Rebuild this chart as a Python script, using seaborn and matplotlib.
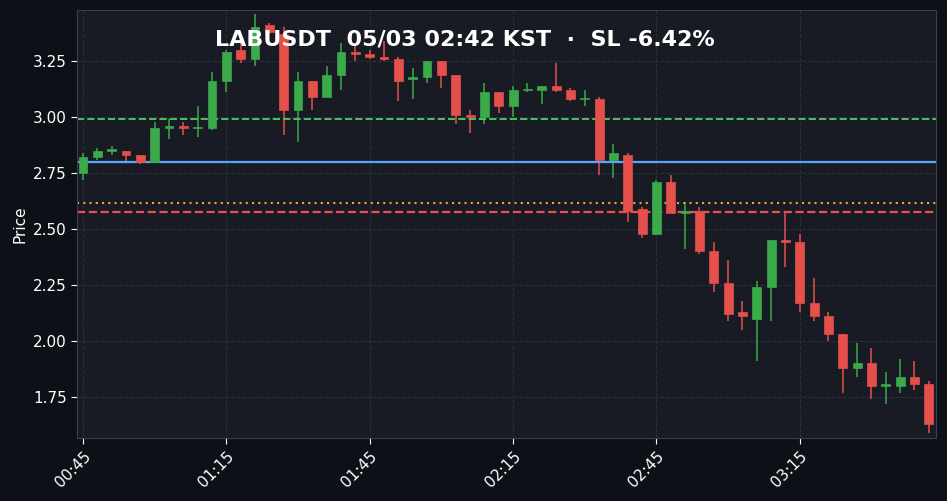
import matplotlib
matplotlib.use("Agg")
import matplotlib.pyplot as plt
import seaborn as sns
import pandas as pd
import numpy as np

opens  = [2.75,2.82,2.85,2.85,2.83,2.80,2.95,2.96,2.95,2.95,3.16,3.30,3.26,3.41,3.37,3.03,3.16,3.09,3.19,3.29,
          3.28,3.27,3.26,3.17,3.18,3.25,3.19,3.01,3.00,3.11,3.05,3.12,3.12,3.14,3.12,3.08,3.08,2.81,2.83,2.59,
          2.48,2.71,2.57,2.58,2.40,2.26,2.13,2.10,2.24,2.45,2.44,2.17,2.11,2.03,1.88,1.90,1.80,1.80,1.84,1.81]
closes = [2.82,2.85,2.85,2.83,2.80,2.95,2.96,2.95,2.95,3.16,3.29,3.26,3.40,3.38,3.03,3.16,3.09,3.19,3.29,3.28,
          3.27,3.26,3.16,3.18,3.25,3.19,3.01,3.00,3.11,3.05,3.12,3.12,3.14,3.12,3.08,3.08,2.81,2.84,2.58,2.48,
          2.71,2.57,2.58,2.40,2.26,2.12,2.11,2.24,2.45,2.44,2.17,2.11,2.03,1.88,1.90,1.80,1.80,1.84,1.81,1.63]
highs  = [2.84,2.86,2.87,2.85,2.83,2.98,2.99,2.98,3.05,3.20,3.30,3.33,3.46,3.42,3.40,3.20,3.16,3.23,3.33,3.32,
          3.30,3.34,3.27,3.22,3.25,3.25,3.19,3.03,3.15,3.11,3.14,3.15,3.14,3.24,3.13,3.12,3.09,2.88,2.84,2.60,
          2.72,2.74,2.62,2.60,2.44,2.36,2.18,2.27,2.45,2.57,2.48,2.28,2.13,2.03,1.99,1.97,1.86,1.92,1.91,1.82]
lows   = [2.72,2.81,2.83,2.80,2.79,2.80,2.90,2.92,2.91,2.94,3.11,3.24,3.23,3.37,2.92,2.89,3.03,3.09,3.12,3.25,
          3.26,3.25,3.07,3.08,3.15,3.13,2.97,2.93,2.97,3.02,3.00,3.11,3.06,3.11,3.07,3.05,2.74,2.73,2.53,2.46,
          2.48,2.57,2.41,2.39,2.22,2.09,2.05,1.91,2.09,2.33,2.13,2.09,2.00,1.77,1.84,1.74,1.72,1.77,1.78,1.59]
tick_labels = ["00:45","01:15","01:45","02:15","02:45","03:15"]
entry, tp, sl_exit, sl = 2.80, 2.99, 2.616, 2.576
title = "LABUSDT  05/03 02:42 KST  ·  SL -6.42%"

step = 3
df = pd.DataFrame({"t": np.arange(len(opens)) * step, "o": opens, "c": closes, "h": highs, "l": lows})
df["up"] = df.c >= df.o

sns.set_style("dark")
fig = plt.figure(figsize=(9.47, 5.01), dpi=100, facecolor="#0d1017")
ax = fig.add_axes([77/947, 63/501, 859/947, 428/501])
ax.set_facecolor("#181b23")
G, R = "#3aaa4a", "#e5504a"
for _, r in df.iterrows():
    col = G if r.up else R
    ax.vlines(r.t, r.l, r.h, color=col, lw=1.1, zorder=2)
    lo, hi = min(r.o, r.c), max(r.o, r.c)
    ax.bar(r.t, max(hi - lo, 0.006), bottom=lo, width=1.85, color=col,
           edgecolor=col, linewidth=0.5, zorder=3)
ax.axhline(tp, color="#4cc45a", ls="--", lw=1.4)
ax.axhline(entry, color="#58a6ff", ls="-", lw=1.6)
ax.axhline(sl_exit, color="#f2a33a", ls=(0, (1, 2)), lw=1.5)
ax.axhline(sl, color="#f0504a", ls="--", lw=1.6)
ax.set_xlim(-1.26, 178.5)
ax.set_ylim(1.567, 3.478)
ax.set_xticks([0, 30, 60, 90, 120, 150])
ax.set_xticklabels(tick_labels, rotation=45, ha="right", rotation_mode="anchor")
ax.set_yticks([1.75, 2.0, 2.25, 2.5, 2.75, 3.0, 3.25])
ax.yaxis.set_major_formatter(matplotlib.ticker.FormatStrFormatter("%.2f"))
ax.grid(True, color="#2a2e38", ls="--", lw=0.8)
ax.set_axisbelow(True)
ax.tick_params(colors="white", labelsize=11, length=4, left=True, bottom=True)
ax.set_ylabel("Price", color="white", fontsize=11)
for s in ax.spines.values():
    s.set_color("#3a3e48")
ax.text(0.452, 0.93, title, transform=ax.transAxes, ha="center", va="center",
        color="white", fontsize=16, fontweight="bold")
fig.savefig("out.png", dpi=100, facecolor=fig.get_facecolor())
